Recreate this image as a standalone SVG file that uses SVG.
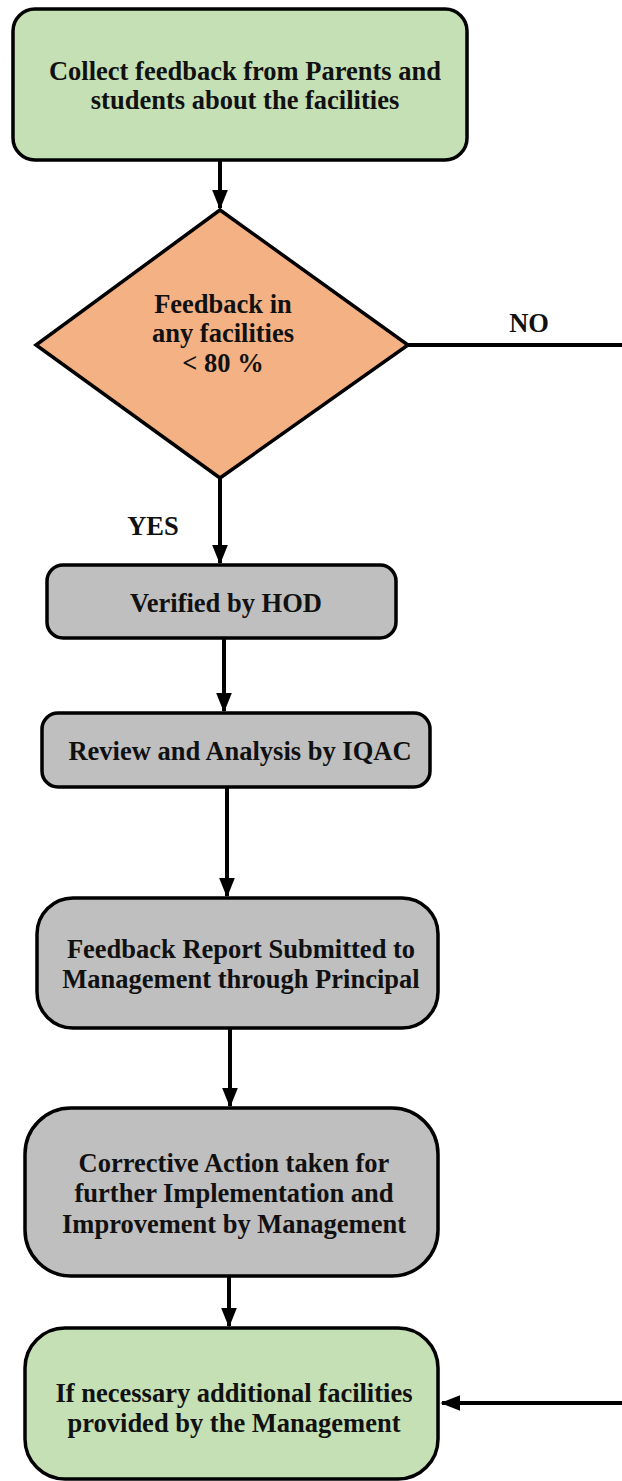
<svg xmlns="http://www.w3.org/2000/svg" width="622" height="1481" viewBox="0 0 622 1481">
<defs>
<marker id="ah" markerWidth="5" markerHeight="4" refX="4.6" refY="2" orient="auto" markerUnits="strokeWidth">
<path d="M0,0 L5,2 L0,4 Z" fill="#000"/>
</marker>
<style>
.box{stroke:#000;stroke-width:3.5}
.green{fill:#c5e0b4}
.gray{fill:#bfbfbf}
.orange{fill:#f4b183}
.t{font-family:"Liberation Serif","Times New Roman",serif;font-weight:bold;font-size:26.5px;fill:#111;text-anchor:middle}
.c{stroke:#000;stroke-width:4;fill:none}
</style>
</defs>
<rect width="622" height="1481" fill="#fff"/>
<g id="connectors">
<line class="c" x1="220" y1="160" x2="220" y2="208" marker-end="url(#ah)"/>
<polyline class="c" points="408,345 622,345"/>
<line class="c" x1="220" y1="478" x2="220" y2="563" marker-end="url(#ah)"/>
<line class="c" x1="224" y1="638" x2="224" y2="711" marker-end="url(#ah)"/>
<line class="c" x1="227" y1="787" x2="227" y2="896" marker-end="url(#ah)"/>
<line class="c" x1="230" y1="1028" x2="230" y2="1106" marker-end="url(#ah)"/>
<line class="c" x1="229" y1="1276" x2="229" y2="1326" marker-end="url(#ah)"/>
<line class="c" x1="622" y1="1403" x2="442" y2="1403" marker-end="url(#ah)"/>
<text class="t" x="529" y="332">NO</text>
<text class="t" x="153" y="535">YES</text>
</g>
<g id="collect">
<rect class="box green" x="13" y="9" width="454" height="151" rx="22"/>
<text class="t" x="245" y="80">Collect feedback from Parents and</text>
<text class="t" x="245" y="109">students about the facilities</text>
</g>
<g id="decision">
<polygon class="box orange" points="220,210 408,345 220,478 36,345"/>
<text class="t" x="223" y="313">Feedback in</text>
<text class="t" x="223" y="342">any facilities</text>
<text class="t" x="223" y="372">&lt; 80 %</text>
</g>
<g id="hod">
<rect class="box gray" x="47" y="565" width="349" height="73" rx="16"/>
<text class="t" x="226" y="612">Verified by HOD</text>
</g>
<g id="iqac">
<rect class="box gray" x="42" y="713" width="388" height="74" rx="16"/>
<text class="t" x="240" y="760">Review and Analysis by IQAC</text>
</g>
<g id="report">
<rect class="box gray" x="37" y="898" width="401" height="130" rx="36"/>
<text class="t" x="241" y="958">Feedback Report Submitted to</text>
<text class="t" x="241" y="988">Management through Principal</text>
</g>
<g id="corrective">
<rect class="box gray" x="25" y="1108" width="413" height="168" rx="46"/>
<text class="t" x="234" y="1172">Corrective Action taken for</text>
<text class="t" x="234" y="1202">further Implementation and</text>
<text class="t" x="234" y="1233">Improvement by Management</text>
</g>
<g id="additional">
<rect class="box green" x="25" y="1328" width="413" height="151" rx="40"/>
<text class="t" x="234" y="1402">If necessary additional facilities</text>
<text class="t" x="234" y="1432">provided by the Management</text>
</g>
</svg>
